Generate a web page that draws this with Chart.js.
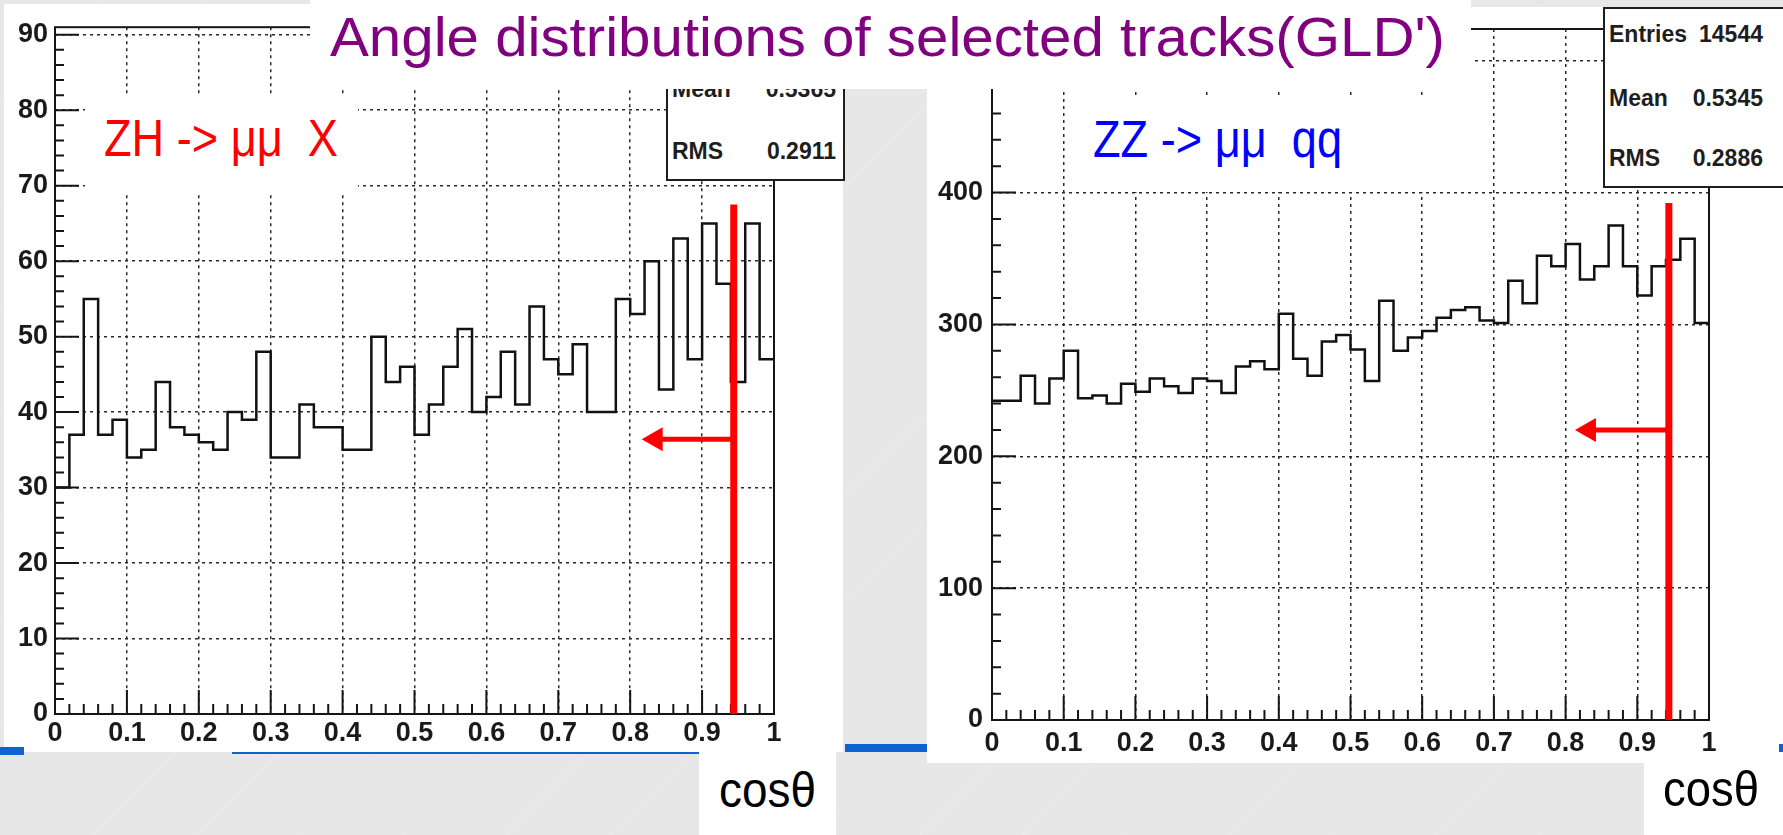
<!DOCTYPE html>
<html>
<head>
<meta charset="utf-8">
<script src="https://cdn.jsdelivr.net/npm/chart.js@4.4.0/dist/chart.umd.min.js"></script>
<style>
    body {
        margin: 0;
        width: 1783px;
        height: 835px;
        overflow: hidden;
        position: relative;
        background: #e7e7e7 repeating-linear-gradient(135deg, transparent 0 72px, rgba(255,255,255,0.18) 72px 73px);
        font-family: "Liberation Sans", Arial, sans-serif;
    }
    .abs { position: absolute; }
    .white { background: #fff; }
    .blue { background: #0d63d0; }
    .txt { position: absolute; line-height: 1; white-space: pre; transform-origin: 0 0; }
    .stat { position: absolute; line-height: 1; font-weight: bold; font-size: 23px; color: #1e1e1e; white-space: pre; }
    .statbox { position: absolute; background: #fff; border: 2px solid #1e1e1e; box-sizing: border-box; }
</style>
</head>
<body>

<!-- slide panels -->
<div class="abs white" style="left:4px; top:4px; width:839px; height:748px;"></div>
<div class="abs white" style="left:927px; top:89px; width:856px; height:674px;"></div>
<div class="abs white" style="left:1471px; top:7px; width:312px; height:82px;"></div>

<!-- blue rule of the slide -->
<div class="abs blue" style="left:0; top:747px; width:24px; height:8px;"></div>
<div class="abs blue" style="left:232px; top:752px; width:467px; height:2px;"></div>
<div class="abs blue" style="left:845px; top:744px; width:82px; height:8px;"></div>
<div class="abs blue" style="left:1779px; top:744px; width:4px; height:8px;"></div>

<!-- charts -->
<div class="abs" style="left:4px; top:4px; width:839px; height:748px;"><canvas id="zhChart"></canvas></div>
<div class="abs" style="left:927px; top:0; width:856px; height:763px;"><canvas id="zzChart"></canvas></div>

<!-- process labels -->
<div class="abs white" style="left:85px; top:97px; width:273px; height:96px;"></div>
<div class="txt fit" data-w="234" style="left:104px; top:112.8px; font-size:51px; color:#ff0000;">ZH -&gt; μμ  X</div>
<div class="abs white" style="left:1090px; top:97px; width:370px; height:95px;"></div>
<div class="txt fit" data-w="249" style="left:1093px; top:113.8px; font-size:51px; color:#0000ff;">ZZ -&gt; μμ  qq</div>

<!-- stats boxes -->
<div class="statbox" style="left:666px; top:30px; width:179px; height:151px;"></div>
<div class="stat" style="left:672px; top:77.5px;">Mean</div>
<div class="stat" style="right:947px; top:77.5px;">0.5365</div>
<div class="stat" style="left:672px; top:139.5px;">RMS</div>
<div class="stat" style="right:947px; top:139.5px;">0.2911</div>

<div class="statbox" style="left:1603px; top:7px; width:190px; height:181px;"></div>
<div class="stat" style="left:1609px; top:22.5px;">Entries</div>
<div class="stat" style="right:20px; top:22.5px;">14544</div>
<div class="stat" style="left:1609px; top:86.5px;">Mean</div>
<div class="stat" style="right:20px; top:86.5px;">0.5345</div>
<div class="stat" style="left:1609px; top:146.5px;">RMS</div>
<div class="stat" style="right:20px; top:146.5px;">0.2886</div>

<!-- title -->
<div class="abs white" style="left:310px; top:0; width:1161px; height:89px;"></div>
<div class="txt fit" data-w="1115" style="left:330px; top:8.6px; font-size:56px; color:#800080;">Angle distributions of selected tracks(GLD')</div>

<!-- axis titles -->
<div class="abs white" style="left:699px; top:752px; width:137px; height:83px;"></div>
<div class="txt fit" data-w="97" style="left:719px; top:764.7px; font-size:50px; color:#000;">cosθ</div>
<div class="abs white" style="left:1644px; top:763px; width:139px; height:72px;"></div>
<div class="txt fit" data-w="96" style="left:1663px; top:763.7px; font-size:50px; color:#000;">cosθ</div>

<script>
        // Histogram contents, 50 bins of cos(theta) from 0 to 1
        const zhCounts = [
            30, 37, 55, 37, 39, 34, 35, 44, 38, 37,
            36, 35, 40, 39, 48, 34, 34, 41, 38, 38,
            35, 35, 50, 44, 46, 37, 41, 46, 51, 40,
            42, 48, 41, 54, 47, 45, 49, 40, 40, 55,
            53, 60, 43, 63, 47, 65, 57, 44, 65, 47
        ];
        const zzCounts = [
            242, 242, 261, 240, 259, 280, 244, 246, 240, 255,
            249, 259, 253, 248, 259, 257, 248, 268, 272, 266,
            308, 274, 261, 287, 292, 281, 257, 318, 280, 290,
            295, 305, 311, 313, 303, 301, 333, 316, 352, 344,
            361, 334, 344, 375, 344, 322, 344, 349, 365, 301
        ];

        // Tick labels and axis ranges
        const xTicks = [0, 0.1, 0.2, 0.3, 0.4, 0.5, 0.6, 0.7, 0.8, 0.9, 1];
        const zhYTicks = [0, 10, 20, 30, 40, 50, 60, 70, 80, 90];
        const zzYTicks = [0, 100, 200, 300, 400, 500];
        const zhYRange = [0, 91];
        const zzYRange = [0, 524];
        const zhYMinor = 2;
        const zzYMinor = 20;

        // Cut on cos(theta) and the arrow showing the kept side
        const cutX = [0.944, 0.944];
        const cutTop = [67.5, 392];
        const arrowY = [36.4, 220];
        const arrowTip = [0.816, 0.813];

        const binWidth = (xTicks[xTicks.length - 1] - xTicks[0]) / zhCounts.length;

        // Step outline points: left edge of each bin, plus the closing edge
        function histPoints(counts) {
            const pts = counts.map((c, i) => ({ x: i * binWidth, y: c }));
            pts.push({ x: counts.length * binWidth, y: counts[counts.length - 1] });
            return pts;
        }

        // ROOT style frame, inward ticks and the red cut marker
        const rootFrame = {
            id: 'rootFrame',
            afterDatasetsDraw(chart, args, opts) {
                const { ctx, chartArea: a } = chart;
                const x = chart.scales.x;
                const y = chart.scales.y;
                ctx.save();
                ctx.strokeStyle = '#151515';
                ctx.lineWidth = 2;
                ctx.strokeRect(a.left, a.top, a.right - a.left, a.bottom - a.top);

                ctx.beginPath();
                for (let i = 0; i <= zhCounts.length; i++) {
                    const px = x.getPixelForValue(i * binWidth);
                    const len = i % 5 === 0 ? 24 : 10;
                    ctx.moveTo(px, a.bottom);
                    ctx.lineTo(px, a.bottom - len);
                }
                const major = opts.yTicks[1] - opts.yTicks[0];
                for (let k = 0; k * opts.minor <= y.max; k++) {
                    const v = k * opts.minor;
                    const py = y.getPixelForValue(v);
                    const len = v % major === 0 ? 24 : 9;
                    ctx.moveTo(a.left, py);
                    ctx.lineTo(a.left + len, py);
                }
                ctx.stroke();

                // cut line
                const cx = x.getPixelForValue(opts.cut);
                ctx.strokeStyle = '#ff0000';
                ctx.fillStyle = '#ff0000';
                ctx.lineWidth = 7;
                ctx.beginPath();
                ctx.moveTo(cx, y.getPixelForValue(0));
                ctx.lineTo(cx, y.getPixelForValue(opts.top));
                ctx.stroke();

                // arrow
                const ay = y.getPixelForValue(opts.arrowY);
                const tx = x.getPixelForValue(opts.tip);
                ctx.lineWidth = 5;
                ctx.beginPath();
                ctx.moveTo(cx, ay);
                ctx.lineTo(tx + 18, ay);
                ctx.stroke();
                ctx.beginPath();
                ctx.moveTo(tx, ay);
                ctx.lineTo(tx + 21, ay - 12);
                ctx.lineTo(tx + 21, ay + 12);
                ctx.closePath();
                ctx.fill();
                ctx.restore();
            }
        };

        const tickFont = { family: '"Liberation Sans", Arial, sans-serif', size: 27, weight: 'bold' };

        function makeHist(canvasId, counts, yRange, yTicks, yMinor, idx, box) {
            const ctx = document.getElementById(canvasId).getContext('2d');
            return new Chart(ctx, {
                type: 'line',
                data: {
                    datasets: [{
                        data: histPoints(counts),
                        stepped: 'before',
                        borderColor: '#111',
                        borderWidth: 2.5,
                        pointRadius: 0,
                        fill: false
                    }]
                },
                options: {
                    responsive: true,
                    maintainAspectRatio: false,
                    animation: false,
                    layout: { padding: { top: box.top, right: box.right, left: 0, bottom: 0 } },
                    plugins: {
                        legend: { display: false },
                        tooltip: { enabled: false },
                        rootFrame: { yTicks: yTicks, minor: yMinor, cut: cutX[idx], top: cutTop[idx], arrowY: arrowY[idx], tip: arrowTip[idx] }
                    },
                    scales: {
                        x: {
                            type: 'linear',
                            min: xTicks[0],
                            max: xTicks[xTicks.length - 1],
                            afterBuildTicks: (scale) => { scale.ticks = xTicks.map(v => ({ value: v })); },
                            afterFit: (scale) => { scale.height = box.xh; },
                            ticks: {
                                font: tickFont,
                                color: '#1a1a1a',
                                padding: box.xpad,
                                maxRotation: 0,
                                autoSkip: false,
                                callback: (v) => String(Number(v.toFixed(1)))
                            },
                            grid: { color: '#2a2a2a', lineWidth: 1.5, drawTicks: false },
                            border: { display: false, dash: [3, 4] }
                        },
                        y: {
                            min: yRange[0],
                            max: yRange[1],
                            afterBuildTicks: (scale) => { scale.ticks = yTicks.map(v => ({ value: v })); },
                            afterFit: (scale) => { scale.width = box.yw; },
                            ticks: {
                                font: tickFont,
                                color: '#1a1a1a',
                                padding: box.ypad,
                                autoSkip: false
                            },
                            grid: { color: '#2a2a2a', lineWidth: 1.5, drawTicks: false },
                            border: { display: false, dash: [3, 4] }
                        }
                    }
                },
                plugins: [rootFrame]
            });
        }

        makeHist('zhChart', zhCounts, zhYRange, zhYTicks, zhYMinor, 0, { top: 19, right: 69, xh: 38, yw: 51, xpad: 3, ypad: 7 });
        makeHist('zzChart', zzCounts, zzYRange, zzYTicks, zzYMinor, 1, { top: 29, right: 74, xh: 43, yw: 65, xpad: 7, ypad: 9 });

        // squeeze overlay texts to the widths they take on the slide
        document.querySelectorAll('.fit').forEach(el => {
            const w = el.getBoundingClientRect().width;
            el.style.transform = `scaleX(${Number(el.dataset.w) / w})`;
        });
</script>
</body>
</html>
